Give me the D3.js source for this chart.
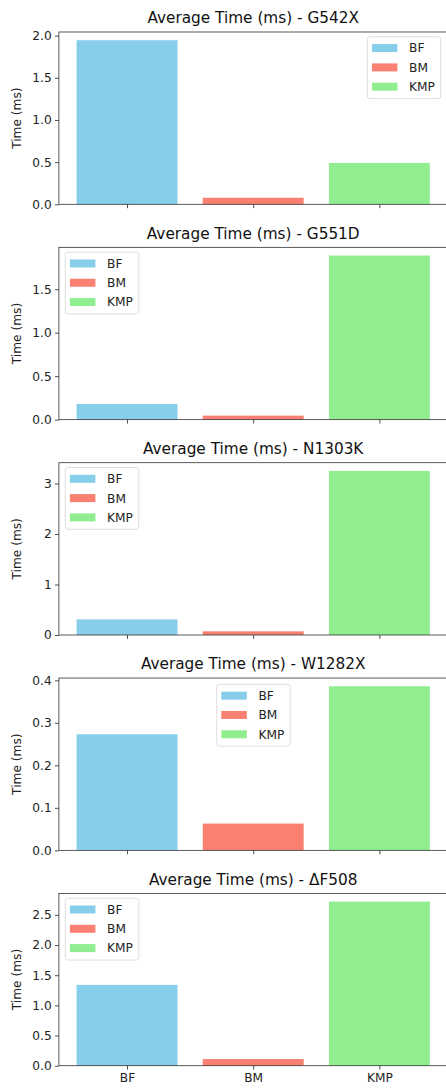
<!DOCTYPE html>
<html>
<head>
<meta charset="utf-8">
<script src="https://cdn.jsdelivr.net/npm/d3@7/dist/d3.min.js"></script>
<style>
  html, body { margin: 0; padding: 0; background: #fff; }
  svg { display: block; font-family: "DejaVu Sans", sans-serif; }
</style>
</head>
<body>
<script>
// ---- data ----
const categories = ["BF", "BM", "KMP"];
const mutations = ["G542X", "G551D", "N1303K", "W1282X", "ΔF508"];
const bfTimes  = [1.946, 0.180, 0.310, 0.273, 1.340];
const bmTimes  = [0.078, 0.046, 0.073, 0.063, 0.110];
const kmpTimes = [0.490, 1.887, 3.250, 0.386, 2.720];
const yTicks = [
  [0, 0.5, 1.0, 1.5, 2.0],
  [0, 0.5, 1.0, 1.5],
  [0, 1, 2, 3],
  [0, 0.1, 0.2, 0.3, 0.4],
  [0, 0.5, 1.0, 1.5, 2.0, 2.5]
];
const yTickFormats = [".1f", ".1f", "d", ".1f", ".1f"];
const legendLocs = ["upper right", "upper left", "upper left", "upper center", "upper left"];
const colors = ["#87CEEB", "#FA8072", "#90EE90"];

// ---- layout ----
const W = 446, H = 1089;
const axLeft = 58.9, axRight = 447.5;
const axTop0 = 32, panelStep = 215.35, axH = 172.3;
const fs = "12.2px";

const svg = d3.select("body").append("svg").attr("width", W).attr("height", H);

const x = d3.scaleLinear().domain([-0.54, 2.54]).range([axLeft, axRight]);
const barW = x(0.8) - x(0);

mutations.forEach((m, i) => {
  const top = axTop0 + i * panelStep;
  const bottom = top + axH;
  const vals = [bfTimes[i], bmTimes[i], kmpTimes[i]];
  const ymax = d3.max(vals) * 1.05;
  const y = d3.scaleLinear().domain([0, ymax]).range([bottom, top]);
  const g = svg.append("g");

  // bars
  g.selectAll("rect.bar").data(vals).join("rect")
    .attr("class", "bar")
    .attr("x", (d, j) => x(j) - barW / 2)
    .attr("width", barW)
    .attr("y", d => y(d))
    .attr("height", d => y(0) - y(d))
    .attr("fill", (d, j) => colors[j]);

  // y axis
  const yAxis = d3.axisLeft(y).tickValues(yTicks[i]).tickFormat(d3.format(yTickFormats[i]))
    .tickSize(3.9).tickPadding(3.3);
  const ya = g.append("g").attr("transform", `translate(${axLeft},0)`).call(yAxis);
  ya.select(".domain").remove();
  ya.selectAll(".tick line").attr("stroke", "#222").attr("stroke-width", 0.8);
  ya.selectAll(".tick text").attr("fill", "#222").style("font-size", fs)
    .style("font-family", "'DejaVu Sans', sans-serif");

  // x axis
  const xAxis = d3.axisBottom(x).tickValues([0, 1, 2])
    .tickFormat(i === mutations.length - 1 ? (d => categories[d]) : () => "")
    .tickSize(3.9).tickPadding(3.3);
  const xa = g.append("g").attr("transform", `translate(0,${bottom})`).call(xAxis);
  xa.select(".domain").remove();
  xa.selectAll(".tick line").attr("stroke", "#222").attr("stroke-width", 0.8);
  xa.selectAll(".tick text").attr("fill", "#222").style("font-size", fs)
    .style("font-family", "'DejaVu Sans', sans-serif");

  // spines
  g.append("rect").attr("x", axLeft).attr("y", top)
    .attr("width", axRight - axLeft).attr("height", bottom - top)
    .attr("fill", "none").attr("stroke", "#333").attr("stroke-width", 0.8);

  // title
  g.append("text").attr("x", (axLeft + axRight) / 2).attr("y", top - 8.7)
    .attr("text-anchor", "middle").style("font-size", "15.3px").attr("fill", "#111")
    .text("Average Time (ms) - " + m);

  // y label
  g.append("text")
    .attr("transform", `translate(20.5,${(top + bottom) / 2}) rotate(-90)`)
    .attr("text-anchor", "middle").style("font-size", fs).attr("fill", "#222")
    .text("Time (ms)");

  // legend
  const lw = 73.5, lh = 61.8;
  let lx;
  if (legendLocs[i] === "upper right") lx = 367.3;
  else if (legendLocs[i] === "upper left") lx = axLeft + 6.4;
  else lx = 216.7;
  const ly = top + (legendLocs[i] === "upper center" ? 6.3 : 4.8);
  const lg = g.append("g").attr("transform", `translate(${lx},${ly})`);
  lg.append("rect").attr("width", lw).attr("height", lh).attr("rx", 2.5)
    .attr("fill", "#fff").attr("fill-opacity", 0.8)
    .attr("stroke", "#d6d6d6").attr("stroke-width", 0.8);
  categories.forEach((c, j) => {
    const cy = 11.3 + j * 19.3;
    lg.append("rect").attr("x", 4.6).attr("y", cy - 4).attr("width", 25.5).attr("height", 8)
      .attr("fill", colors[j]);
    lg.append("text").attr("x", 41.8).attr("y", cy + 4.4).style("font-size", fs)
      .attr("fill", "#222").text(c);
  });
});
</script>
</body>
</html>
